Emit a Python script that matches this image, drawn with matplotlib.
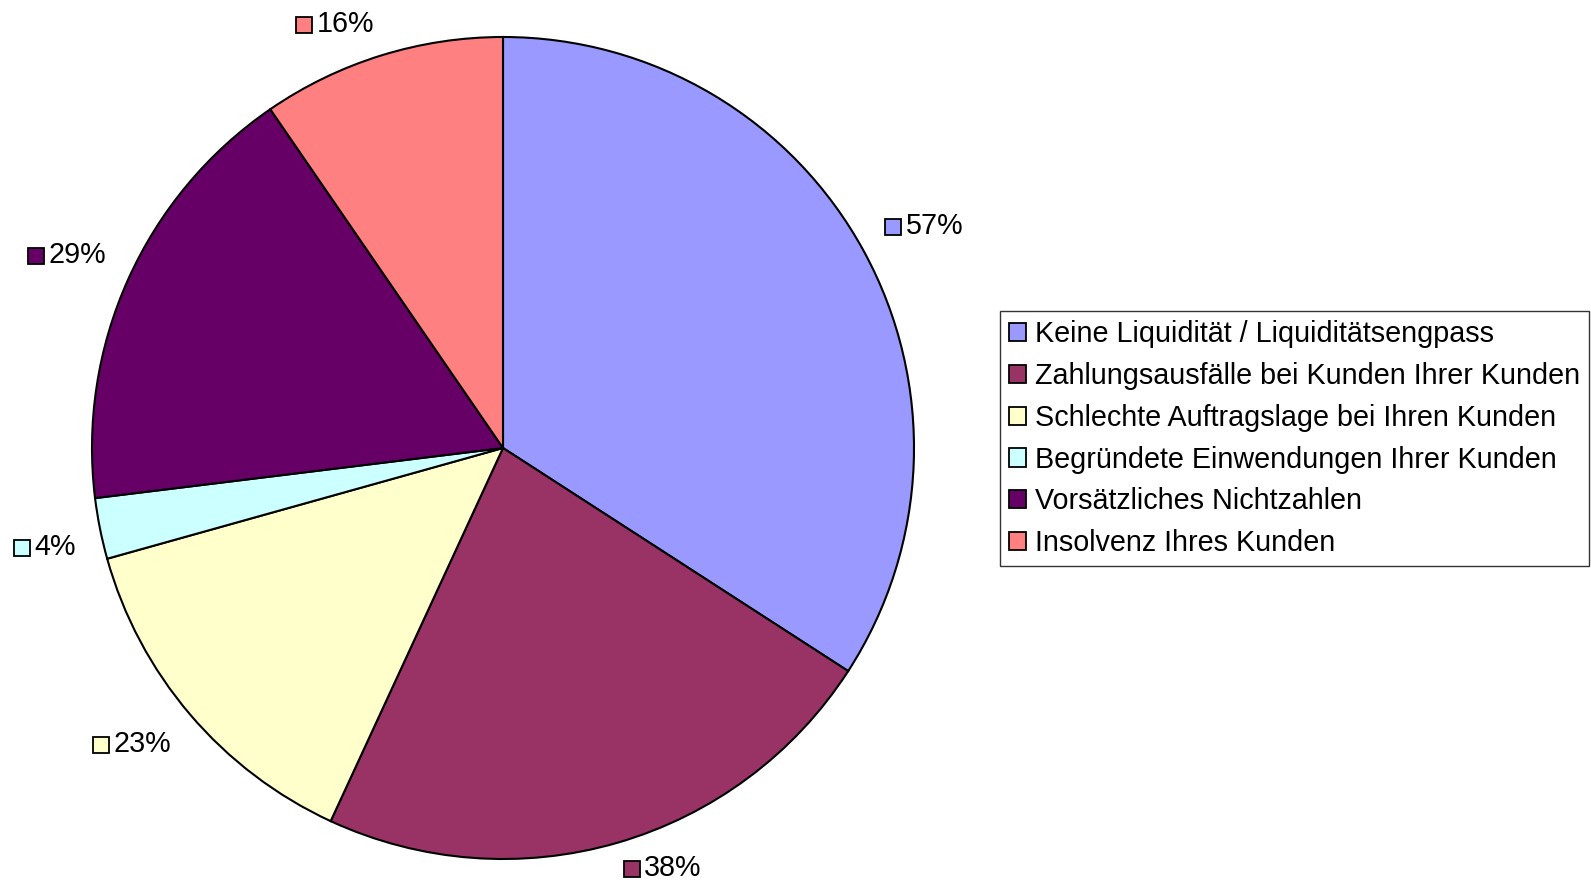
import numpy as np
import matplotlib
matplotlib.use('Agg')
import matplotlib.pyplot as plt
from matplotlib.patches import Patch

plt.rcParams['font.family'] = ['Liberation Sans', 'DejaVu Sans']

# data
categories = ['Keine Liquidität / Liquiditätsengpass',
              'Zahlungsausfälle bei Kunden Ihrer Kunden',
              'Schlechte Auftragslage bei Ihren Kunden',
              'Begründete Einwendungen Ihrer Kunden',
              'Vorsätzliches Nichtzahlen',
              'Insolvenz Ihres Kunden']
values = [57, 38, 23, 4, 29, 16]
colours = ['#9999FF', '#993366', '#FFFFCC', '#CCFFFF', '#660066', '#FF8080']

W, H = 1591, 890
fig = plt.figure(figsize=(W / 100, H / 100), dpi=100)
ax = fig.add_axes([0, 0, 1, 1])

cx, cy, r = 503, 442, 411
wedges, _ = ax.pie(values, colors=colours, startangle=90, counterclock=False,
                   center=(cx, cy), radius=r, frame=True,
                   wedgeprops=dict(edgecolor='black', linewidth=1.5))
ax.set_xlim(0, W)
ax.set_ylim(0, H)
ax.set_aspect('equal')
ax.axis('off')

# data labels: colour square + percentage, nearest corner of the label
# box sits at a point just outside the pie on the slice's mid-angle
fs = 20.7
sq = 15   # square size, px
gap = 5
renderer = fig.canvas.get_renderer()
for w, v, c in zip(wedges, values, colours):
    ang = np.deg2rad((w.theta1 + w.theta2) / 2)
    px = cx + 1.06 * r * np.cos(ang)
    py = cy + 1.06 * r * np.sin(ang)
    if np.sin(ang) >= 0:
        va = 'bottom'
        py = min(py, H - 38)
    else:
        va = 'top'
        py = max(py, 36)
    if np.cos(ang) >= 0:
        t = ax.text(px + sq + gap, py, f'{v}%', fontsize=fs, ha='left', va=va)
        bb = t.get_window_extent(renderer)
        sx = px + sq / 2
    else:
        t = ax.text(px, py, f'{v}%', fontsize=fs, ha='right', va=va)
        bb = t.get_window_extent(renderer)
        sx = px - bb.width - gap - sq / 2
    sy = (bb.y0 + bb.y1) / 2 - 1
    ax.plot(sx, sy, marker='s', markersize=11, markerfacecolor=c,
            markeredgecolor='black', markeredgewidth=1.3, clip_on=False)

handles = [Patch(facecolor=c, edgecolor='black', linewidth=1.3) for c in colours]
leg = fig.legend(handles, categories, loc='upper left',
                 bbox_to_anchor=(1000 / W, 1 - 311 / H), fontsize=fs,
                 frameon=True, fancybox=False, edgecolor='black',
                 handlelength=0.6, handleheight=0.6, handletextpad=0.3,
                 labelspacing=0.48, borderpad=0.32, borderaxespad=0)
leg.get_frame().set_linewidth(1.0)

fig.savefig('out.png', dpi=100)
